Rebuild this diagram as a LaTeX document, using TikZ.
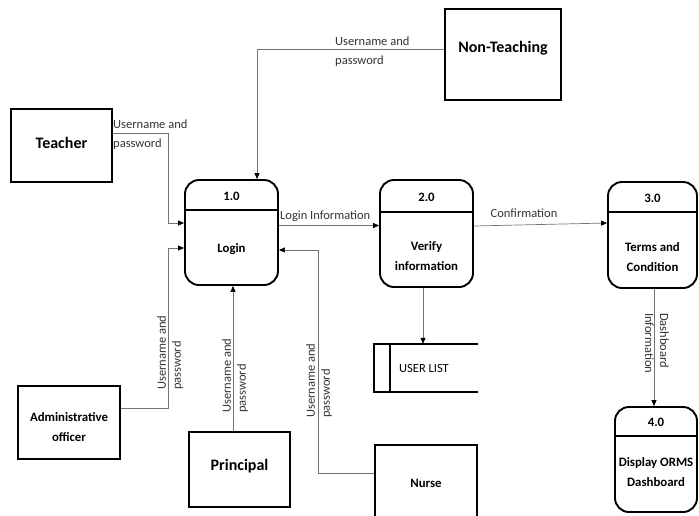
\documentclass[tikz,border=0pt]{standalone}
\usepackage{fontspec}
\setmainfont{Carlito}
\usetikzlibrary{arrows.meta}
\begin{document}
\begin{tikzpicture}[x=1pt,y=-1pt,
  entity/.style={draw=black,line width=2.2pt,inner sep=0pt},
  proc/.style={draw=black,line width=1.9pt,rounded corners=14pt,inner sep=0pt},
  big/.style={font=\fontsize{16}{19}\selectfont\bfseries},
  small/.style={font=\fontsize{12.8}{19.5}\selectfont\bfseries,align=center},
  flow/.style={draw=black!55,line width=0.7pt,-{Triangle[length=6pt,width=5pt,fill=black,color=black]}},
  lbl/.style={font=\fontsize{12.5}{19}\selectfont,text=black!80,inner sep=0pt,align=left},
  rlbl/.style={font=\fontsize{12.5}{15}\selectfont,text=black!80,inner sep=0pt,align=left},
]
\useasboundingbox (0,0) rectangle (699,515);

% entities
\node[entity,minimum width=101pt,minimum height=73pt] (teacher) at (61.5,145.5) {};
\node[big] (teacherT) at (61.5,143) {Teacher};
\node[entity,minimum width=116pt,minimum height=91pt] (nt) at (503,54.5) {};
\node[big] (ntT) at (503,48) {Non-Teaching};
\node[entity,minimum width=102pt,minimum height=73pt] (admin) at (69,422.5) {};
\node[small] (adminT) at (69,427) {Administrative\\officer};
\node[entity,minimum width=101pt,minimum height=75pt] (principal) at (239.5,469.5) {};
\node[big] (principalT) at (239.5,466) {Principal};
\node[entity,minimum width=102pt,minimum height=85pt] (nurse) at (426,487.5) {};
\node[small] (nurseT) at (426,483) {Nurse};

% processes
\node[proc,minimum width=93pt,minimum height=105pt] (login) at (231.5,232.5) {};
\draw[line width=1.9pt] (login.west |- 0,210) -- (login.east |- 0,210);
\node[small] (loginN) at (231.5,196) {1.0};
\node[small] (loginT) at (231.5,249) {Login};

\node[proc,minimum width=93pt,minimum height=107pt] (p2) at (426.5,233.5) {};
\draw[line width=1.9pt] (p2.west |- 0,212) -- (p2.east |- 0,212);
\node[small] (p2N) at (426.5,197) {2.0};
\node[small] (p2T) at (426.5,256) {Verify\\information};

\node[proc,minimum width=89pt,minimum height=106pt] (p3) at (652.5,235) {};
\draw[line width=1.9pt] (p3.west |- 0,212) -- (p3.east |- 0,212);
\node[small] (p3N) at (652.5,198) {3.0};
\node[small] (p3T) at (652.5,257) {Terms and\\Condition};

\node[proc,minimum width=82pt,minimum height=105pt] (p4) at (656,459.5) {};
\draw[line width=1.9pt] (p4.west |- 0,436) -- (p4.east |- 0,436);
\node[small] (p4N) at (656,422) {4.0};
\node[small] (p4T) at (656,472) {Display ORMS\\Dashboard};

% data store
\node[minimum width=104pt,minimum height=48pt,inner sep=0pt] (store) at (426,368) {};
\draw[line width=1.9pt] (store.north east) -- (store.north west) -- (store.south west) -- (store.south east);
\draw[line width=1.9pt] ([xshift=16pt]store.north west) -- ([xshift=16pt]store.south west);
\node[font=\fontsize{12.5}{15}\selectfont] (storeT) at (424,368) {USER LIST};

% flows
\draw[flow] ([yshift=12.5pt]teacher.east) -| (168,223) -- ([yshift=9.5pt]login.west);
\node[lbl,anchor=north west] (l1) at (113,120) {Username and\\password};

\draw[flow] ([yshift=5.5pt]nt.west) -| ([xshift=25.5pt]login.north);
\node[lbl,anchor=north west] (l2) at (335,37) {Username and\\password};

\draw[flow] ([yshift=14.5pt]admin.east) -| (168,248) -- ([yshift=-15.5pt]login.west);
\node[rlbl,rotate=90,anchor=north west] (l3) at (157,390) {Username and\\password};

\draw[flow] ([xshift=-6.5pt]principal.north) -- ([xshift=-6.5pt]principal.north |- login.south);
\node[rlbl,rotate=90,anchor=north west] (l4) at (222,413) {Username and\\password};

\draw[flow] ([yshift=14.5pt]nurse.west) -| (318,250) -- ([yshift=-17.5pt]login.east);
\node[rlbl,rotate=90,anchor=north west] (l5) at (306,418) {Username and\\password};

\draw[flow] ([yshift=7pt]login.east) -- ([yshift=7pt]login.east -| p2.west);
\node[lbl,anchor=south west] (l6) at (280,222) {Login Information};

\draw[flow] ([yshift=7.5pt]p2.east) -- ([yshift=12pt]p3.west);
\node[lbl] (l7) at (524,213) {Confirmation};

\draw[flow] ([xshift=-3.5pt]p2.south) -- ([xshift=-3.5pt]p2.south |- store.north);

\draw[flow] ([xshift=1.5pt]p3.south) -- ([xshift=1.5pt]p3.south |- p4.north);
\node[rlbl,rotate=-90,anchor=north west] (l8) at (669,313) {Dashboard\\Information};
\end{tikzpicture}
\end{document}
